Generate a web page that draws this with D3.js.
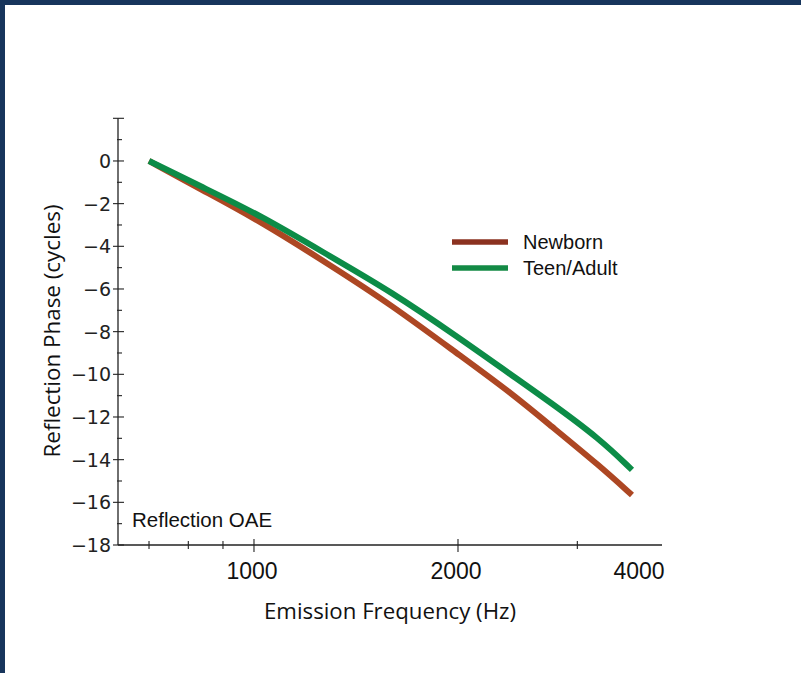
<!DOCTYPE html>
<html><head><meta charset="utf-8">
<script src="https://cdn.jsdelivr.net/npm/d3@7"></script>
<style>html,body{margin:0;padding:0;background:#fff;}svg{display:block;}</style>
</head><body>
<svg id="c" width="801" height="673"></svg>
<script>
const freqs      = [700, 838, 1020, 1308, 1587, 2000, 2386, 2734, 3240, 3612];
const newborn    = [0, -1.36, -2.81, -4.97, -6.70, -9.05, -10.83, -12.38, -14.3, -15.66];
const teenAdult  = [0, -1.22, -2.53, -4.55, -6.09, -8.25, -9.98, -11.3, -13.03, -14.48];
const seriesNames = ["Newborn", "Teen/Adult"];
const yMajorTicks = [2, 0, -2, -4, -6, -8, -10, -12, -14, -16, -18];
const yLabelTicks = [0, -2, -4, -6, -8, -10, -12, -14, -16, -18];
const yMinorTicks = [1, -1, -3, -5, -7, -9, -11, -13, -15, -17];
const xMajorTicks = [1000, 2000];
const xMinorTicks = [700, 800, 900, 3000];
const xLabelTicks = [1000, 2000, 4000];

const svg = d3.select("#c");
// frame
svg.append("rect").attr("x",0).attr("y",0).attr("width",801).attr("height",5).attr("fill","#17355c");
svg.append("rect").attr("x",0).attr("y",0).attr("width",5).attr("height",673).attr("fill","#17355c");

const x = d3.scaleLog().domain([630, 4000]).range([118, 662]);
const y = d3.scaleLinear().domain([-18, 2]).range([545, 118.3]);
const axisColor = "#222";

// y axis
svg.append("line").attr("x1", 118).attr("x2", 118).attr("y1", y(2)).attr("y2", y(-18))
  .attr("stroke", axisColor).attr("stroke-width", 1.3);
svg.selectAll(".ymaj").data(yMajorTicks).enter().append("line")
  .attr("x1", 113).attr("x2", 124).attr("y1", d => y(d)).attr("y2", d => y(d))
  .attr("stroke", axisColor).attr("stroke-width", 1.1);
svg.selectAll(".ymin").data(yMinorTicks).enter().append("line")
  .attr("x1", 117).attr("x2", 122).attr("y1", d => y(d)).attr("y2", d => y(d))
  .attr("stroke", axisColor).attr("stroke-width", 1.1);
svg.selectAll(".ylab").data(yLabelTicks).enter().append("text")
  .attr("x", 111).attr("y", d => y(d) + 7)
  .attr("text-anchor", "end").attr("font-family", "DejaVu Sans").attr("font-size", 19)
  .attr("fill", "#222")
  .text(d => d < 0 ? "\u2212" + Math.abs(d) : String(d));

// x axis
svg.append("line").attr("x1", 118).attr("x2", 662).attr("y1", 545).attr("y2", 545)
  .attr("stroke", axisColor).attr("stroke-width", 1.3);
svg.selectAll(".xmaj").data(xMajorTicks).enter().append("line")
  .attr("x1", d => x(d)).attr("x2", d => x(d)).attr("y1", 539).attr("y2", 552)
  .attr("stroke", axisColor).attr("stroke-width", 1.1);
svg.selectAll(".xmin").data(xMinorTicks).enter().append("line")
  .attr("x1", d => x(d)).attr("x2", d => x(d)).attr("y1", 541).attr("y2", 549)
  .attr("stroke", axisColor).attr("stroke-width", 1.1);
svg.selectAll(".xlab").data(xLabelTicks).enter().append("text")
  .attr("x", d => d === 4000 ? x(d) - 23 : x(d) - 2).attr("y", 579)
  .attr("text-anchor", "middle").attr("font-family", "Liberation Sans, Arial").attr("font-size", 23)
  .attr("fill", "#111").text(d => d);

// axis titles
svg.append("text").attr("x", 390).attr("y", 619).attr("text-anchor", "middle")
  .attr("font-family", "Open Sans").attr("font-size", 22).attr("fill", "#111")
  .attr("textLength", 252).attr("lengthAdjust", "spacingAndGlyphs")
  .text("Emission Frequency (Hz)");
svg.append("text").attr("transform", "translate(60,331) rotate(-90)").attr("text-anchor", "middle")
  .attr("font-family", "Open Sans").attr("font-size", 22).attr("fill", "#111")
  .attr("textLength", 253).attr("lengthAdjust", "spacingAndGlyphs")
  .text("Reflection Phase (cycles)");

svg.append("text").attr("x", 132).attr("y", 527).attr("font-family", "Liberation Sans, Arial")
  .attr("font-size", 20.5).attr("fill", "#111").text("Reflection OAE");

// curves
const line = d3.line().x(d => x(d[0])).y(d => y(d[1])).curve(d3.curveBasis);
const nbData = freqs.map((f, i) => [f, newborn[i]]);
const taData = freqs.map((f, i) => [f, teenAdult[i]]);
svg.append("path").datum(nbData).attr("d", line).attr("fill", "none")
  .attr("stroke", "#ad4723").attr("stroke-width", 6);
svg.append("path").datum(taData).attr("d", line).attr("fill", "none")
  .attr("stroke", "#0c8c47").attr("stroke-width", 6);

// legend
const legColors = ["#8b3220", "#138a45"];
const leg = svg.selectAll(".leg").data(seriesNames).enter().append("g")
  .attr("transform", (d, i) => `translate(452, ${242 + i * 26})`);
leg.append("line").attr("x1", 0).attr("x2", 56).attr("y1", 0).attr("y2", 0)
  .attr("stroke", (d, i) => legColors[i]).attr("stroke-width", 5.5);
leg.append("text").attr("x", 71).attr("y", 7).attr("font-family", "Liberation Sans, Arial")
  .attr("font-size", 20).attr("fill", "#111").text(d => d);
</script>
</body></html>
